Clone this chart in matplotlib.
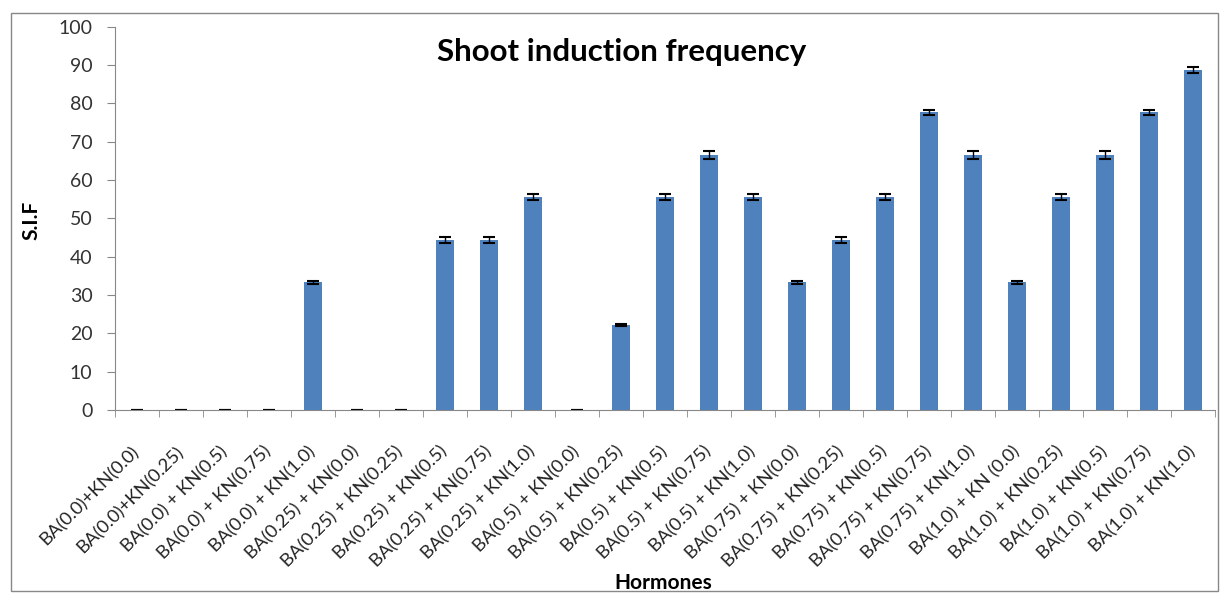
import numpy as np
import matplotlib.pyplot as plt
from matplotlib.patches import Rectangle

labels = ['BA(0.0)+KN(0.0)', 'BA(0.0)+KN(0.25)', 'BA(0.0) + KN(0.5)', 'BA(0.0) + KN(0.75)',
          'BA(0.0) + KN(1.0)', 'BA(0.25) + KN(0.0)', 'BA(0.25) + KN(0.25)', 'BA(0.25) + KN(0.5)',
          'BA(0.25) + KN(0.75)', 'BA(0.25) + KN(1.0)', 'BA(0.5) + KN(0.0)', 'BA(0.5) + KN(0.25)',
          'BA(0.5) + KN(0.5)', 'BA(0.5) + KN(0.75)', 'BA(0.5) + KN(1.0)', 'BA(0.75) + KN(0.0)',
          'BA(0.75) + KN(0.25)', 'BA(0.75) + KN(0.5)', 'BA(0.75) + KN(0.75)', 'BA(0.75) + KN(1.0)',
          'BA(1.0) + KN (0.0)', 'BA(1.0) + KN(0.25)', 'BA(1.0) + KN(0.5)', 'BA(1.0) + KN(0.75)',
          'BA(1.0) + KN(1.0)']
sif = [0, 0, 0, 0, 33.3, 0, 0, 44.4, 44.4, 55.5, 0, 22.2, 55.5, 66.6, 55.5, 33.3,
       44.4, 55.5, 77.7, 66.6, 33.3, 55.5, 66.6, 77.7, 88.8]
err = [0, 0, 0, 0, 0.4, 0, 0, 0.8, 0.8, 0.8, 0, 0.2, 0.8, 1.0, 0.8, 0.4,
       0.8, 0.8, 0.6, 1.0, 0.4, 0.8, 1.0, 0.6, 0.8]

plt.rcParams['font.family'] = ['Lato', 'DejaVu Sans']

fig = plt.figure(figsize=(12.2, 5.95), dpi=100)
ax = fig.add_axes([0.094, 0.311, 0.902, 0.644])

x = np.arange(len(labels))
ax.bar(x, sif, width=0.4, color='#4F81BD', yerr=err,
       error_kw=dict(ecolor='black', elinewidth=1, capsize=4, capthick=1.5))

ax.set_xlim(-0.5, len(labels) - 0.5)
ax.set_ylim(0, 100)
ax.set_yticks(range(0, 101, 10))
ax.tick_params(axis='y', labelsize=14, direction='out', length=6, color='#888888',
               pad=10, labelcolor='#333333')
ax.set_xticks(x)
ax.set_xticklabels(labels, rotation=45, ha='right', va='center', rotation_mode='anchor',
                   fontsize=13.3, color='#222222')
ax.tick_params(axis='x', length=0, pad=28)
ax.set_xticks(np.arange(-0.5, len(labels), 1), minor=True)
ax.tick_params(axis='x', which='minor', direction='out', length=5, color='#888888')

for s in ['top', 'right']:
    ax.spines[s].set_visible(False)
for s in ['left', 'bottom']:
    ax.spines[s].set_color('#888888')

ax.text(0.461, 0.935, 'Shoot induction frequency', transform=ax.transAxes,
        ha='center', va='center', fontsize=22.5, fontweight='bold')
fig.text(0.026, 0.63, 'S.I.F', rotation=90, ha='center', va='center',
         fontsize=15, fontweight='bold')
fig.text(0.544, 0.02, 'Hormones', ha='center', va='center', fontsize=15, fontweight='bold')

fig.patches.append(Rectangle((0.009, 0.006), 0.989, 0.972, transform=fig.transFigure,
                             fill=False, edgecolor='#888888', linewidth=1))

fig.savefig('out.png', dpi=100)
